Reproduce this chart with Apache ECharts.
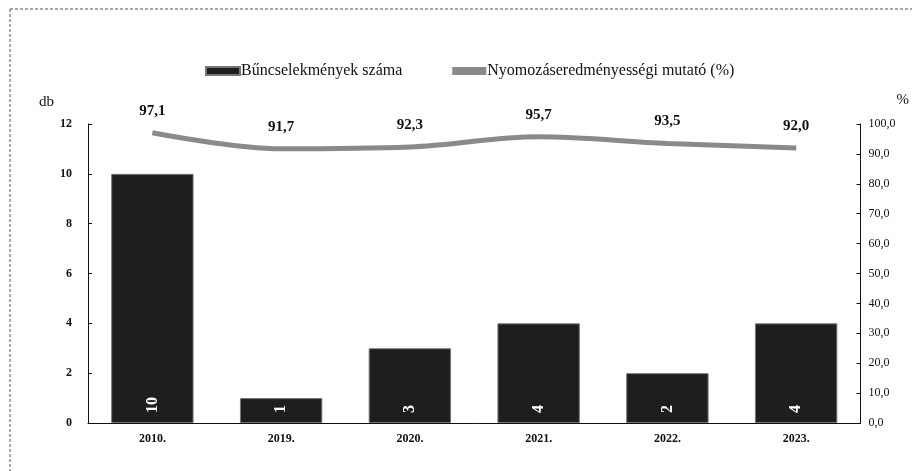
<!DOCTYPE html>
<html>
<head>
<meta charset="utf-8">
<script src="https://cdn.jsdelivr.net/npm/echarts@6/dist/echarts.min.js"></script>
<style>
  html, body { margin: 0; padding: 0; background: #fff; }
  #chart { width: 912px; height: 471px; }
</style>
</head>
<body>
<div id="chart"></div>
<script>
// adatok
const years = ['2010.', '2019.', '2020.', '2021.', '2022.', '2023.']
const crimes = [10, 1, 3, 4, 2, 4]
const clearance = [97.1, 91.7, 92.3, 95.7, 93.5, 92.0]

const serif = '"Liberation Serif", "DejaVu Serif", serif'
const comma = v => Number(v).toFixed(1).replace('.', ',')

const chart = echarts.init(document.getElementById('chart'))

const option = {
  animation: false,
  textStyle: { fontFamily: serif, color: '#111' },
  graphic: [
    { type: 'line', shape: { x1: 10, y1: 9, x2: 912, y2: 9 }, style: { stroke: '#555', lineWidth: 1, lineDash: [3, 2] } },
    { type: 'line', shape: { x1: 10, y1: 9, x2: 10, y2: 471 }, style: { stroke: '#555', lineWidth: 1, lineDash: [3, 2] } }
  ],
  legend: {
    top: 58,
    left: 200,
    itemGap: 50,
    itemWidth: 34,
    itemHeight: 8,
    textStyle: { fontFamily: serif, fontSize: 16, color: '#111', padding: [0, 0, 0, -4] },
    data: [
      { name: 'Bűncselekmények száma', icon: 'rect' },
      { name: 'Nyomozáseredményességi mutató (%)', icon: 'rect', itemStyle: { color: '#8a8a8a' } }
    ]
  },
  grid: { left: 88, right: 46, top: 124, bottom: 48 },
  xAxis: {
    type: 'category',
    data: years,
    axisLine: { lineStyle: { color: '#111', width: 1 } },
    axisTick: { show: false },
    axisLabel: { fontFamily: serif, fontWeight: 'bold', fontSize: 12, color: '#111', margin: 10 }
  },
  yAxis: [
    {
      type: 'value',
      name: 'db',
      nameLocation: 'end',
      nameGap: 14,
      nameTextStyle: { fontFamily: serif, fontSize: 15, color: '#111', align: 'right', padding: [0, 34, 0, 0] },
      min: 0, max: 12, interval: 2,
      axisLine: { show: true, lineStyle: { color: '#111' } },
      axisTick: { show: true, inside: true, length: 4, lineStyle: { color: '#111' } },
      axisLabel: { fontFamily: serif, fontWeight: 'bold', fontSize: 12, color: '#111', margin: 16 },
      splitLine: { show: false }
    },
    {
      type: 'value',
      name: '%',
      nameLocation: 'end',
      nameGap: 16,
      nameTextStyle: { fontFamily: serif, fontSize: 15, color: '#111', align: 'left', padding: [0, 0, 0, 36] },
      min: 0, max: 100, interval: 10,
      axisLine: { show: true, lineStyle: { color: '#111' } },
      axisTick: { show: true, inside: true, length: 4, lineStyle: { color: '#111' } },
      axisLabel: { fontFamily: serif, fontSize: 12, color: '#111', margin: 8, formatter: v => comma(v) },
      splitLine: { show: false }
    }
  ],
  series: [
    {
      name: 'Bűncselekmények száma',
      type: 'bar',
      data: crimes,
      yAxisIndex: 0,
      barWidth: '64%',
      itemStyle: { color: '#1e1e1e', borderColor: '#777', borderWidth: 1 },
      label: {
        show: true,
        position: 'insideBottom',
        rotate: 90,
        align: 'left',
        verticalAlign: 'middle',
        distance: 10,
        color: '#fff',
        fontFamily: serif,
        fontWeight: 'bold',
        fontSize: 16
      }
    },
    {
      name: 'Nyomozáseredményességi mutató (%)',
      type: 'line',
      data: clearance,
      yAxisIndex: 1,
      smooth: 0.35,
      symbol: 'circle',
      symbolSize: 1,
      showSymbol: true,
      lineStyle: { color: '#8a8a8a', width: 5 },
      itemStyle: { color: '#8a8a8a' },
      label: {
        show: true,
        position: 'top',
        distance: 14,
        color: '#111',
        fontFamily: serif,
        fontWeight: 'bold',
        fontSize: 15,
        formatter: p => comma(p.value)
      }
    }
  ]
}

chart.setOption(option)
</script>
</body>
</html>
